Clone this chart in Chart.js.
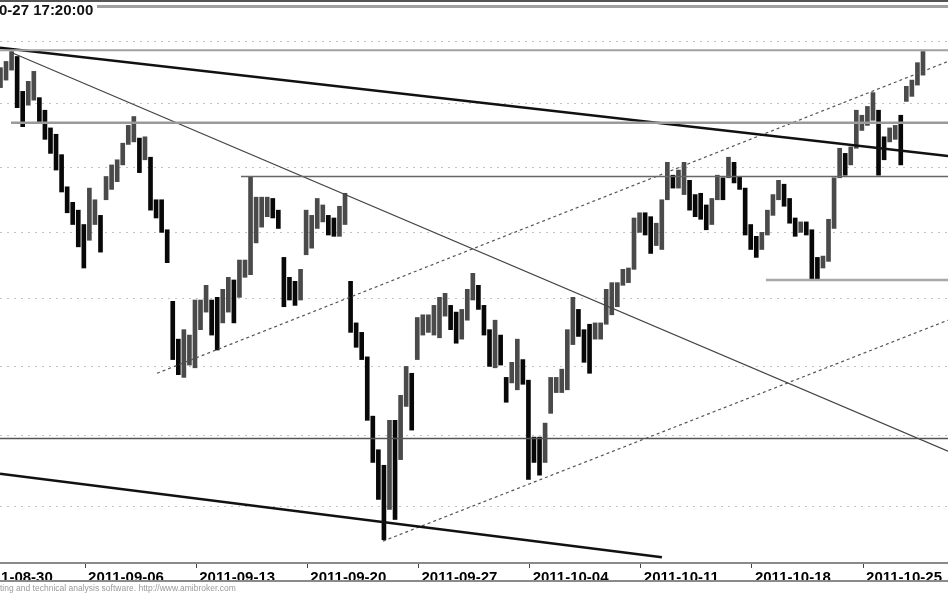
<!DOCTYPE html>
<html>
<head>
<meta charset="utf-8">
<script src="https://cdn.jsdelivr.net/npm/chart.js@4.4.0/dist/chart.umd.min.js"></script>
<style>
  html, body { margin: 0; padding: 0; background: #fff; }
  #wrap { position: relative; width: 948px; height: 593px; overflow: hidden; }
  #title { position: absolute; top: 1px; font: bold 15px "Liberation Sans", Arial, sans-serif; color: #111; white-space: nowrap; }
  #credit { position: absolute; top: 583px; font: 8.5px "Liberation Sans", Arial, sans-serif; color: #9a9a9a; white-space: nowrap; }
</style>
</head>
<body>
<div id="wrap">
  <canvas id="chart" width="948" height="593"></canvas>
  <div id="title">2011-10-27 17:20:00</div>
  <div id="credit">AmiBroker - charting and technical analysis software. http://www.amibroker.com</div>
</div>
<script>
// trading days, index 0 = 2011-08-30 (first labelled week)
const tradingDays = [
  '2011-08-30','2011-08-31','2011-09-01','2011-09-02','2011-09-05',
  '2011-09-06','2011-09-07','2011-09-08','2011-09-09','2011-09-12',
  '2011-09-13','2011-09-14','2011-09-15','2011-09-16','2011-09-19',
  '2011-09-20','2011-09-21','2011-09-22','2011-09-23','2011-09-26',
  '2011-09-27','2011-09-28','2011-09-29','2011-09-30','2011-10-03',
  '2011-10-04','2011-10-05','2011-10-06','2011-10-07','2011-10-10',
  '2011-10-11','2011-10-12','2011-10-13','2011-10-14','2011-10-17',
  '2011-10-18','2011-10-19','2011-10-20','2011-10-21','2011-10-24',
  '2011-10-25','2011-10-26','2011-10-27'
];
const weekTicks = [0, 5, 10, 15, 20, 25, 30, 35, 40];
const firstBarDay = 1;      // 2011-08-31
const barsPerDay = 4;
const sessionShift = 0.18;  // session opens slightly before the date mark

// intraday highs / lows, 4 bars per session, 2011-08-31 .. 2011-10-27
const highs = [
  2476,2479,2484,2492, 2488,2460,2468,2476, 2455,2445,2431,2426, 2410,2385,2373,2367,
  2356,2384,2375,2363, 2393,2402,2406,2419, 2433,2440,2423,2424, 2408,2375,2375,2352,
  2298,2270,2277,2273, 2299,2299,2310,2299, 2301,2307,2316,2314, 2329,2329,2393,2377,
  2377,2377,2376,2367, 2331,2316,2313,2322, 2367,2363,2376,2371, 2363,2361,2370,2380,
  2313,2282,2275,2257, 2214,2190,2179,2211, 2211,2229,2250,2245, 2286,2288,2288,2295,
  2301,2304,2295,2290, 2292,2307,2319,2310, 2295,2277,2284,2273, 2242,2253,2270,2255,
  2240,2199,2199,2209, 2242,2242,2248,2277, 2301,2292,2277,2281, 2282,2282,2307,2312,
  2312,2322,2323,2361, 2365,2365,2362,2357, 2375,2404,2394,2398, 2404,2390,2379,2380,
  2371,2376,2394,2392, 2408,2404,2393,2384, 2356,2347,2350,2367, 2379,2390,2387,2376,
  2361,2358,2358,2352, 2331,2332,2360,2392, 2415,2411,2416,2445, 2441,2448,2459,2445,
  2424,2431,2433,2441, 2464,2469,2483,2492
];
const lows = [
  2463,2463,2469,2477, 2447,2432,2449,2453, 2436,2422,2411,2398, 2381,2365,2356,2339,
  2323,2344,2356,2335, 2375,2383,2389,2402, 2418,2420,2396,2406, 2367,2361,2350,2327,
  2255,2244,2242,2251, 2249,2277,2290,2273, 2262,2282,2290,2282, 2301,2316,2318,2342,
  2354,2362,2361,2353, 2294,2299,2295,2299, 2333,2338,2353,2358, 2348,2347,2347,2356,
  2275,2264,2255,2211, 2181,2155,2127,2148, 2141,2183,2221,2204, 2255,2273,2275,2273,
  2271,2287,2277,2267, 2270,2284,2299,2292, 2273,2250,2249,2251, 2224,2238,2233,2237,
  2169,2181,2172,2181, 2216,2231,2231,2233, 2266,2272,2253,2245, 2270,2270,2281,2288,
  2294,2310,2312,2322, 2350,2348,2334,2340, 2337,2375,2384,2384, 2379,2367,2362,2360,
  2352,2356,2375,2375, 2392,2388,2383,2348, 2337,2331,2337,2348, 2363,2375,2370,2357,
  2347,2350,2348,2314, 2314,2323,2328,2353, 2392,2394,2402,2415, 2429,2433,2437,2394,
  2406,2420,2422,2402, 2452,2456,2465,2473
];

// price levels of the dotted grid
const gridLevels = [2150, 2200, 2250, 2300, 2350, 2400, 2450, 2500];

// drawn studies: [day, price] end points
const mainDownTrend = [[1.174, 2495], [43.82, 2409]];
const fastDownTrend = [[1.714, 2491], [43.82, 2189]];
const lowerChannel  = [[1.174, 2173], [30.95, 2115]];
const riseFromSep12 = [[8.237, 2245], [43.82, 2484]];
const riseFromSep23 = [[18.40, 2126], [43.82, 2284]];
const levelTop      = [[1.174, 2493], [43.82, 2493]];
const levelAug31    = [[1.669, 2435], [43.82, 2435]];
const levelSep15    = [[12.015, 2393], [43.82, 2393]];
const levelOct21    = [[35.63, 2314], [43.82, 2314]];
const levelLow      = [[1.174, 2198], [43.82, 2198]];

const viewStart = 1.174, viewEnd = 43.82;
const priceTop = 2534, priceBottom = 2111;

// place the cropped header / footer texts
const m = document.createElement('canvas').getContext('2d');
m.font = 'bold 15px "Liberation Sans"';
document.getElementById('title').style.left = (-m.measureText('2011-1').width - 1) + 'px';
m.font = '8.5px "Liberation Sans"';
document.getElementById('credit').style.left = (-m.measureText('AmiBroker - char').width) + 'px';

const barTime = i => firstBarDay + Math.floor(i / barsPerDay) - sessionShift + ((i % barsPerDay) + 0.5) / barsPerDay;
const bars = highs.map((h, i) => ({ x: barTime(i), y: [lows[i], h] }));
const barColors = highs.map((h, i) => {
    if (i === 0) return '#222';
    return (h + lows[i]) >= (highs[i - 1] + lows[i - 1]) ? '#4a4a4a' : '#080808';
});

const seg = (pts, color, width, dash) => ({
    type: 'line',
    data: pts.map(p => ({ x: p[0], y: p[1] })),
    borderColor: color,
    borderWidth: width,
    borderDash: dash || [],
    pointRadius: 0,
    fill: false,
    order: 1
});

const frame = {
    id: 'frame',
    afterDraw(chart) {
        const c = chart.ctx;
        const xs = chart.scales.x;
        c.save();
        c.fillStyle = '#555';
        c.fillRect(0, 0, chart.width, 2);
        c.fillStyle = '#a0a0a0';
        c.fillRect(97, 5, chart.width - 97, 3);
        c.fillStyle = '#8a8a8a';
        c.fillRect(0, xs.top + 17, chart.width, 2);
        c.restore();
    }
};

new Chart(document.getElementById('chart'), {
    type: 'bar',
    data: {
        datasets: [
            {
                type: 'bar',
                data: bars,
                backgroundColor: barColors,
                barThickness: 4,
                order: 2
            },
            seg(levelTop, '#a0a0a0', 2),
            seg(levelAug31, '#9a9a9a', 2.5),
            seg(levelSep15, '#666', 1.5),
            seg(levelOct21, '#a8a8a8', 2.5),
            seg(levelLow, '#555', 1.5),
            seg(mainDownTrend, '#111', 2.5),
            seg(fastDownTrend, '#444', 1.2),
            seg(lowerChannel, '#111', 2.5),
            seg(riseFromSep12, '#555', 1.2, [3, 3]),
            seg(riseFromSep23, '#555', 1.2, [3, 3])
        ]
    },
    options: {
        responsive: false,
        animation: false,
        events: [],
        layout: { padding: 0 },
        plugins: {
            legend: { display: false },
            tooltip: { enabled: false }
        },
        scales: {
            x: {
                type: 'linear',
                min: viewStart,
                max: viewEnd,
                offset: false,
                afterBuildTicks: s => { s.ticks = weekTicks.map(v => ({ value: v })); },
                afterFit: s => { s.height = 30; s.paddingLeft = 0; s.paddingRight = 0; },
                ticks: {
                    align: 'start',
                    labelOffset: 3,
                    padding: 1,
                    maxRotation: 0,
                    autoSkip: false,
                    color: '#000',
                    font: { family: '"Liberation Sans", Arial, sans-serif', size: 15, weight: 'bold' },
                    callback: v => tradingDays[v]
                },
                grid: { drawOnChartArea: false, offset: false, tickLength: 5, color: '#444', tickWidth: 1 },
                border: { color: '#8a8a8a', width: 2 }
            },
            y: {
                type: 'logarithmic',
                min: priceBottom,
                max: priceTop,
                afterBuildTicks: s => { s.ticks = gridLevels.map(v => ({ value: v })); },
                afterFit: s => { s.width = 0; s.paddingTop = 0; s.paddingBottom = 0; },
                ticks: { display: false },
                grid: { color: '#c2c2c2', lineWidth: 1, drawTicks: false },
                border: { display: false, dash: [2, 5] }
            }
        }
    },
    plugins: [frame]
});
</script>
</body>
</html>
